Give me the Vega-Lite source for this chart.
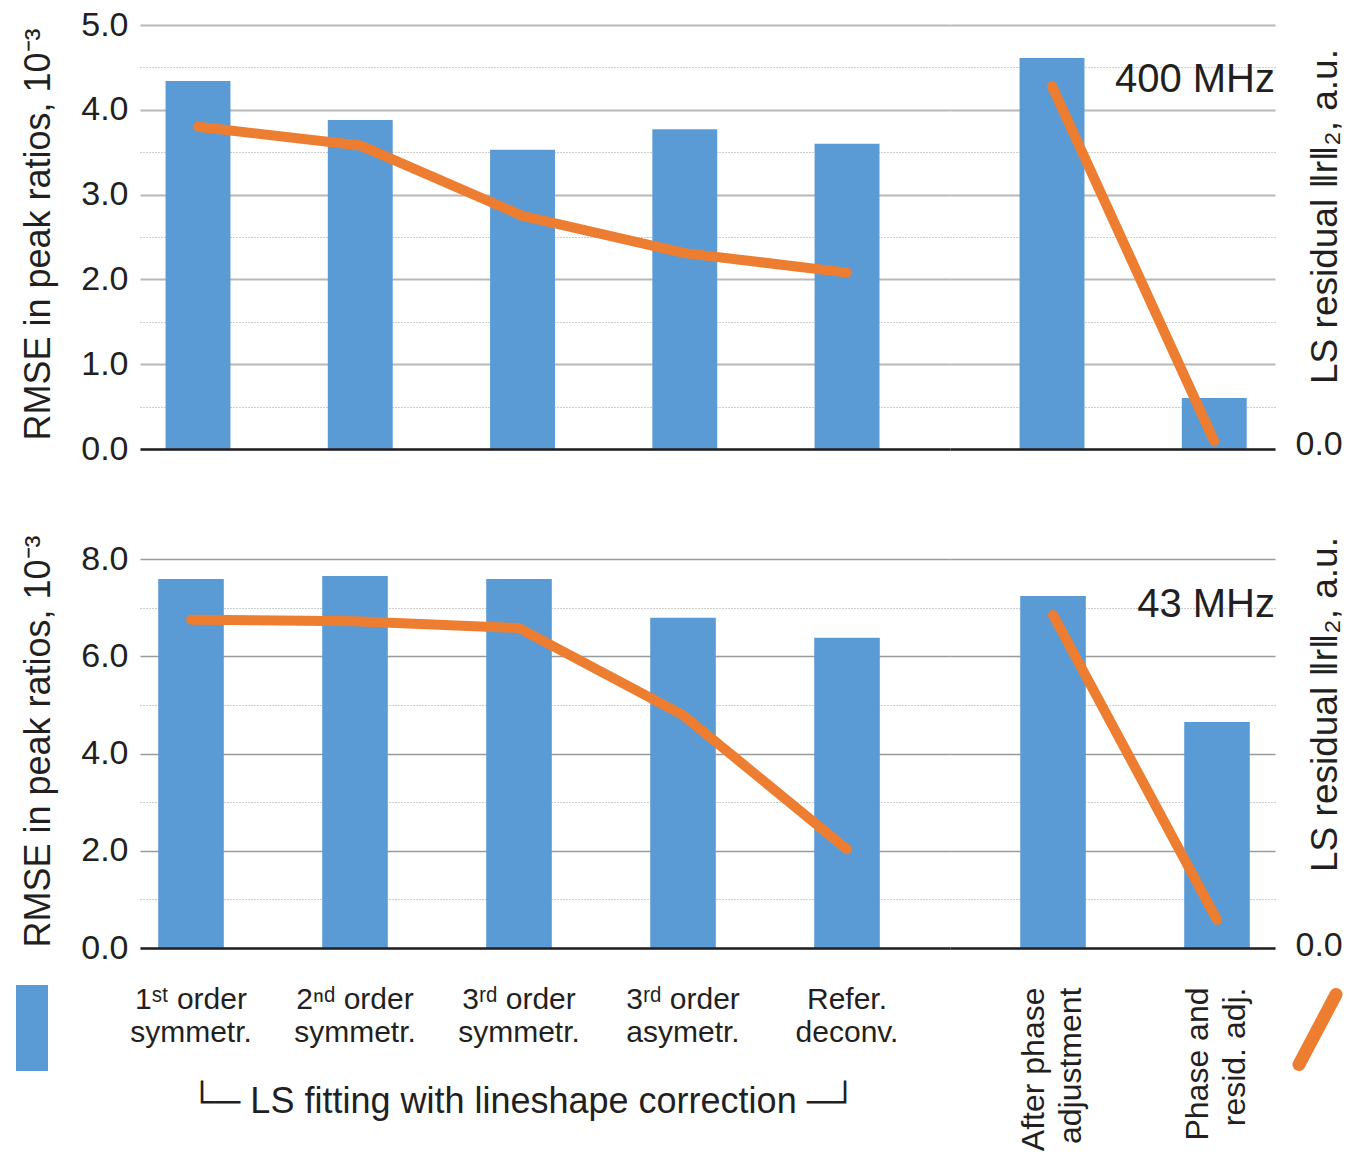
{
  "$schema": "https://vega.github.io/schema/vega-lite/v6.json",
  "background": "white",
  "padding": {"left": 16, "top": 8, "right": 5, "bottom": 3},
  "config": {
    "view": {"stroke": null},
    "font": "Liberation Sans",
    "axis": {"labelColor": "#231f20", "titleColor": "#231f20", "labelFont": "Liberation Sans", "titleFont": "Liberation Sans", "titleFontWeight": "normal", "ticks": false},
    "title": {"font": "Liberation Sans", "fontWeight": "normal", "color": "#231f20"}
  },
  "data": {"values": [
    {"panel": "400 MHz", "group": "fit", "method": "1ˢᵗ order\nsymmetr.", "rmse": 4.34, "ls": 3.80},
    {"panel": "400 MHz", "group": "fit", "method": "2ⁿᵈ order\nsymmetr.", "rmse": 3.88, "ls": 3.58},
    {"panel": "400 MHz", "group": "fit", "method": "3ʳᵈ order\nsymmetr.", "rmse": 3.53, "ls": 2.75},
    {"panel": "400 MHz", "group": "fit", "method": "3ʳᵈ order\nasymetr.", "rmse": 3.77, "ls": 2.31},
    {"panel": "400 MHz", "group": "fit", "method": "Refer.\ndeconv.", "rmse": 3.60, "ls": 2.08},
    {"panel": "400 MHz", "group": "adj", "method": "After phase\nadjustment", "rmse": 4.61, "ls": 4.28},
    {"panel": "400 MHz", "group": "adj", "method": "Phase and\nresid. adj.", "rmse": 0.60, "ls": 0.09},
    {"panel": "43 MHz", "group": "fit", "method": "1ˢᵗ order\nsymmetr.", "rmse": 7.59, "ls": 6.75},
    {"panel": "43 MHz", "group": "fit", "method": "2ⁿᵈ order\nsymmetr.", "rmse": 7.65, "ls": 6.72},
    {"panel": "43 MHz", "group": "fit", "method": "3ʳᵈ order\nsymmetr.", "rmse": 7.59, "ls": 6.58},
    {"panel": "43 MHz", "group": "fit", "method": "3ʳᵈ order\nasymetr.", "rmse": 6.79, "ls": 4.79},
    {"panel": "43 MHz", "group": "fit", "method": "Refer.\ndeconv.", "rmse": 6.38, "ls": 2.03},
    {"panel": "43 MHz", "group": "adj", "method": "After phase\nadjustment", "rmse": 7.24, "ls": 6.85},
    {"panel": "43 MHz", "group": "adj", "method": "Phase and\nresid. adj.", "rmse": 4.65, "ls": 0.58}
  ]},
  "columns": 2,
  "spacing": {"row": 110, "column": 0},
  "bounds": "flush",
  "concat": [
    {
      "width": 810, "height": 424,
      "transform": [{"filter": "datum.panel === '400 MHz' && datum.group === 'fit'"}],
      "resolve": {"scale": {"y": "independent"}},
      "encoding": {"x": {"field": "method", "type": "nominal", "sort": null,
        "scale": {"paddingInner": 0.6, "paddingOuter": 0.296, "align": 0.266},
        "axis": {"labels": false, "ticks": false, "title": null, "domainColor": "#231f20", "domainWidth": 2.5, "zindex": 1}}},
      "layer": [
        {"mark": {"type": "bar"},
         "encoding": {
           "y": {"field": "rmse", "type": "quantitative", "scale": {"domain": [0, 5], "nice": false},
             "axis": {"orient": "left", "values": [0, 0.5, 1, 1.5, 2, 2.5, 3, 3.5, 4, 4.5, 5], "format": ".1f",
               "labelExpr": "datum.value % 1 === 0 ? datum.label : ''", "labelFontSize": 34, "labelPadding": 12,
               "domain": false, "ticks": false, "grid": true,
               "gridColor": {"condition": {"test": "datum.value % 1 === 0", "value": "#b8b8b8"}, "value": "#9a9a9a"},
               "gridDash": {"condition": {"test": "datum.value % 1 === 0", "value": []}, "value": [1, 2]},
               "gridWidth": {"condition": {"test": "datum.value % 1 === 0", "value": 1.8}, "value": 1},
               "title": "RMSE in peak ratios, 10⁻³", "titleFontSize": 36, "titleAngle": 270, "titleX": -91, "titleY": 209,
               "titleAlign": "center", "titleBaseline": "alphabetic"}},
           "fill": {"datum": "RMSE", "type": "nominal", "scale": {"domain": ["RMSE"], "range": ["#5b9bd5"]},
             "legend": {"orient": "none", "legendX": -124, "legendY": 960, "title": null, "labelExpr": "''", "symbolType": "M-1,-1H-0.256V1H-1Z", "symbolSize": 7396, "symbolStrokeWidth": 0, "padding": 0, "labelOffset": 0}}
         }},
        {"mark": {"type": "line", "strokeWidth": 10, "strokeCap": "round", "strokeJoin": "round"},
         "encoding": {
           "y": {"field": "ls", "type": "quantitative", "scale": {"domain": [0, 5], "nice": false}, "axis": null},
           "stroke": {"datum": "LS residual", "type": "nominal", "scale": {"domain": ["LS residual"], "range": ["#ed7d31"]},
             "legend": {"orient": "none", "legendX": 1134, "legendY": 961, "title": null, "labelExpr": "''", "symbolType": "M-0.5,0.946L0.5,-0.946", "symbolSize": 5476, "symbolStrokeWidth": 13, "symbolFillColor": "transparent", "padding": 0, "labelOffset": 0, "encode": {"symbols": {"update": {"strokeCap": {"value": "round"}}}}}}
         }}
      ]
    },
    {
      "width": 325, "height": 424,
      "transform": [{"filter": "datum.panel === '400 MHz' && datum.group === 'adj'"}],
      "resolve": {"scale": {"y": "independent"}},
      "encoding": {"x": {"field": "method", "type": "nominal", "sort": null,
        "scale": {"paddingInner": 0.6, "paddingOuter": 0.3015, "align": 0.711},
        "axis": {"labels": false, "ticks": false, "title": null, "domainColor": "#231f20", "domainWidth": 2.5, "zindex": 1}}},
      "layer": [
        {"mark": {"type": "bar"},
         "encoding": {
           "y": {"field": "rmse", "type": "quantitative", "scale": {"domain": [0, 5], "nice": false},
             "axis": {"orient": "left", "values": [0, 0.5, 1, 1.5, 2, 2.5, 3, 3.5, 4, 4.5, 5], "labels": false,
               "domain": false, "ticks": false, "grid": true, "title": null,
               "gridColor": {"condition": {"test": "datum.value % 1 === 0", "value": "#b8b8b8"}, "value": "#9a9a9a"},
               "gridDash": {"condition": {"test": "datum.value % 1 === 0", "value": []}, "value": [1, 2]},
               "gridWidth": {"condition": {"test": "datum.value % 1 === 0", "value": 1.8}, "value": 1}}},
           "fill": {"datum": "RMSE", "type": "nominal", "scale": {"domain": ["RMSE"], "range": ["#5b9bd5"]},
             "legend": {"orient": "none", "legendX": -124, "legendY": 960, "title": null, "labelExpr": "''", "symbolType": "M-1,-1H-0.256V1H-1Z", "symbolSize": 7396, "symbolStrokeWidth": 0, "padding": 0, "labelOffset": 0}}
         }},
        {"mark": {"type": "line", "strokeWidth": 10, "strokeCap": "round", "strokeJoin": "round"},
         "encoding": {
           "y": {"field": "ls", "type": "quantitative", "scale": {"domain": [0, 5], "nice": false},
             "axis": {"orient": "right", "values": [0], "format": ".1f", "grid": false, "domain": false, "ticks": false,
               "labelFontSize": 34, "labelPadding": 20, "labelOffset": -5, "title": "LS residual ‖r‖₂, a.u.", "titleFontSize": 37,
               "titleAngle": 270, "titleX": 61, "titleY": 191, "titleAlign": "center", "titleBaseline": "alphabetic"}},
           "stroke": {"datum": "LS residual", "type": "nominal", "scale": {"domain": ["LS residual"], "range": ["#ed7d31"]},
             "legend": {"orient": "none", "legendX": 1134, "legendY": 961, "title": null, "labelExpr": "''", "symbolType": "M-0.5,0.946L0.5,-0.946", "symbolSize": 5476, "symbolStrokeWidth": 13, "symbolFillColor": "transparent", "padding": 0, "labelOffset": 0, "encode": {"symbols": {"update": {"strokeCap": {"value": "round"}}}}}}
         }},
        {"transform": [{"aggregate": [], "groupby": ["panel"]}],
         "mark": {"type": "text", "align": "right", "baseline": "alphabetic", "fontSize": 40, "font": "Liberation Sans", "color": "#231f20"},
         "encoding": {
           "x": {"value": "width"},
           "y": {"datum": 4.21, "type": "quantitative", "scale": {"domain": [0, 5], "nice": false}, "axis": null},
           "text": {"field": "panel"}
         }}
      ]
    },
    {
      "width": 810, "height": 389,
      "transform": [{"filter": "datum.panel === '43 MHz' && datum.group === 'fit'"}],
      "resolve": {"scale": {"y": "independent"}},
      "encoding": {"x": {"field": "method", "type": "nominal", "sort": null,
        "scale": {"paddingInner": 0.6, "paddingOuter": 0.2695, "align": 0.206},
        "axis": {"labelExpr": "split(datum.label, '\\n')", "labelAngle": 0, "labelAlign": "center", "labelBaseline": "top",
          "labelFontSize": 30, "labelLineHeight": 33, "labelPadding": 36, "labelLimit": 300, "ticks": false,
          "domainColor": "#231f20", "domainWidth": 2.5, "zindex": 1,
          "title": "└─ LS fitting with lineshape correction ─┘", "titleFontSize": 36, "titleX": 383, "titleY": 164,
          "titleAlign": "center", "titleBaseline": "alphabetic"}}},
      "layer": [
        {"mark": {"type": "bar"},
         "encoding": {
           "y": {"field": "rmse", "type": "quantitative", "scale": {"domain": [0, 8], "nice": false},
             "axis": {"orient": "left", "values": [0, 1, 2, 3, 4, 5, 6, 7, 8], "format": ".1f",
               "labelExpr": "datum.value % 2 === 0 ? datum.label : ''", "labelFontSize": 34, "labelPadding": 12,
               "domain": false, "ticks": false, "grid": true,
               "gridColor": {"condition": {"test": "datum.value % 2 === 0", "value": "#9a9a9a"}, "value": "#9a9a9a"},
               "gridDash": {"condition": {"test": "datum.value % 2 === 0", "value": []}, "value": [1, 2]},
               "gridWidth": {"condition": {"test": "datum.value % 2 === 0", "value": 1.6}, "value": 1},
               "title": "RMSE in peak ratios, 10⁻³", "titleFontSize": 36, "titleAngle": 270, "titleX": -91, "titleY": 182,
               "titleAlign": "center", "titleBaseline": "alphabetic"}},
           "fill": {"datum": "RMSE", "type": "nominal", "scale": {"domain": ["RMSE"], "range": ["#5b9bd5"]},
             "legend": {"orient": "none", "legendX": -124, "legendY": 960, "title": null, "labelExpr": "''", "symbolType": "M-1,-1H-0.256V1H-1Z", "symbolSize": 7396, "symbolStrokeWidth": 0, "padding": 0, "labelOffset": 0}}
         }},
        {"mark": {"type": "line", "strokeWidth": 10, "strokeCap": "round", "strokeJoin": "round"},
         "encoding": {
           "y": {"field": "ls", "type": "quantitative", "scale": {"domain": [0, 8], "nice": false}, "axis": null},
           "stroke": {"datum": "LS residual", "type": "nominal", "scale": {"domain": ["LS residual"], "range": ["#ed7d31"]},
             "legend": {"orient": "none", "legendX": 1134, "legendY": 961, "title": null, "labelExpr": "''", "symbolType": "M-0.5,0.946L0.5,-0.946", "symbolSize": 5476, "symbolStrokeWidth": 13, "symbolFillColor": "transparent", "padding": 0, "labelOffset": 0, "encode": {"symbols": {"update": {"strokeCap": {"value": "round"}}}}}}
         }}
      ]
    },
    {
      "width": 325, "height": 389,
      "transform": [{"filter": "datum.panel === '43 MHz' && datum.group === 'adj'"}],
      "resolve": {"scale": {"y": "independent"}},
      "encoding": {"x": {"field": "method", "type": "nominal", "sort": null,
        "scale": {"paddingInner": 0.6, "paddingOuter": 0.2909, "align": 0.736},
        "axis": {"labelExpr": "split(datum.label, '\\n')", "labelAngle": 270, "labelAlign": "right", "labelBaseline": "middle",
          "labelFontSize": 32, "labelLineHeight": 37, "labelPadding": 39, "labelOffset": -19, "labelLimit": 300, "ticks": false,
          "domainColor": "#231f20", "domainWidth": 2.5, "zindex": 1, "title": null}}},
      "layer": [
        {"mark": {"type": "bar"},
         "encoding": {
           "y": {"field": "rmse", "type": "quantitative", "scale": {"domain": [0, 8], "nice": false},
             "axis": {"orient": "left", "values": [0, 1, 2, 3, 4, 5, 6, 7, 8], "labels": false,
               "domain": false, "ticks": false, "grid": true, "title": null,
               "gridColor": {"condition": {"test": "datum.value % 2 === 0", "value": "#9a9a9a"}, "value": "#9a9a9a"},
               "gridDash": {"condition": {"test": "datum.value % 2 === 0", "value": []}, "value": [1, 2]},
               "gridWidth": {"condition": {"test": "datum.value % 2 === 0", "value": 1.6}, "value": 1}}},
           "fill": {"datum": "RMSE", "type": "nominal", "scale": {"domain": ["RMSE"], "range": ["#5b9bd5"]},
             "legend": {"orient": "none", "legendX": -124, "legendY": 960, "title": null, "labelExpr": "''", "symbolType": "M-1,-1H-0.256V1H-1Z", "symbolSize": 7396, "symbolStrokeWidth": 0, "padding": 0, "labelOffset": 0}}
         }},
        {"mark": {"type": "line", "strokeWidth": 10, "strokeCap": "round", "strokeJoin": "round"},
         "encoding": {
           "y": {"field": "ls", "type": "quantitative", "scale": {"domain": [0, 8], "nice": false},
             "axis": {"orient": "right", "values": [0], "format": ".1f", "grid": false, "domain": false, "ticks": false,
               "labelFontSize": 34, "labelPadding": 20, "labelOffset": -3, "title": "LS residual ‖r‖₂, a.u.", "titleFontSize": 37,
               "titleAngle": 270, "titleX": 61, "titleY": 145, "titleAlign": "center", "titleBaseline": "alphabetic"}},
           "stroke": {"datum": "LS residual", "type": "nominal", "scale": {"domain": ["LS residual"], "range": ["#ed7d31"]},
             "legend": {"orient": "none", "legendX": 1134, "legendY": 961, "title": null, "labelExpr": "''", "symbolType": "M-0.5,0.946L0.5,-0.946", "symbolSize": 5476, "symbolStrokeWidth": 13, "symbolFillColor": "transparent", "padding": 0, "labelOffset": 0, "encode": {"symbols": {"update": {"strokeCap": {"value": "round"}}}}}}
         }},
        {"transform": [{"aggregate": [], "groupby": ["panel"]}],
         "mark": {"type": "text", "align": "right", "baseline": "alphabetic", "fontSize": 40, "font": "Liberation Sans", "color": "#231f20"},
         "encoding": {
           "x": {"value": "width"},
           "y": {"datum": 6.81, "type": "quantitative", "scale": {"domain": [0, 8], "nice": false}, "axis": null},
           "text": {"field": "panel"}
         }}
      ]
    }
  ]
}
